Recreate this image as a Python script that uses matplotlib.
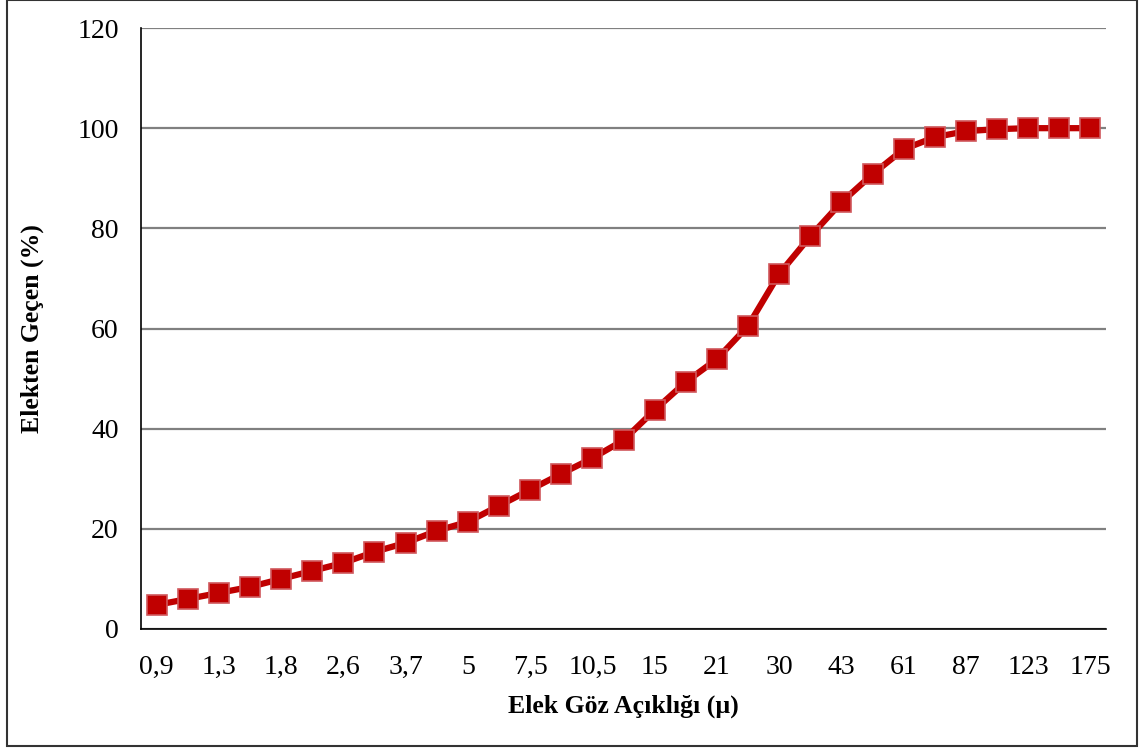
import numpy as np
import matplotlib.pyplot as plt
from matplotlib.patches import Rectangle

# sieve openings (micron) and cumulative passing (%)
sizes = ['0,9', '1,1', '1,3', '1,5', '1,8', '2,2', '2,6', '3,1', '3,7', '4,3',
         '5', '6', '7,5', '9', '10,5', '12,5', '15', '18', '21', '25',
         '30', '36', '43', '51', '61', '73', '87', '103', '123', '147', '175']
passing = [4.8, 6.0, 7.2, 8.4, 10.0, 11.6, 13.2, 15.4, 17.2, 19.6,
           21.4, 24.6, 27.8, 31.0, 34.1, 37.7, 43.7, 49.3, 53.9, 60.5,
           70.9, 78.4, 85.2, 90.8, 95.8, 98.2, 99.4, 99.8, 100, 100, 100]

plt.rcParams['font.family'] = ['Liberation Serif', 'DejaVu Serif']

fig = plt.figure(figsize=(11.4, 7.49), dpi=100)
ax = fig.add_axes([141/1140, 1 - 629/749, (1106-141)/1140, (629-28)/749])

x = np.arange(len(sizes))
ax.plot(x, passing, color='#C00000', lw=4.5, marker='s', markersize=14,
        markerfacecolor='#C00000', markeredgecolor='#D0585C', markeredgewidth=1.2,
        zorder=3)

ax.set_xlim(-0.5, len(sizes) - 0.5)
ax.set_ylim(0, 120)
ax.set_yticks(range(0, 121, 20))
ax.set_xticks(x[::2])
ax.set_xticklabels(sizes[::2])
ax.tick_params(length=0, labelsize=20)
ax.tick_params(axis='x', pad=19)
ax.tick_params(axis='y', pad=16)

ax.grid(axis='y', color='#808080', lw=1.6)
ax.set_axisbelow(True)
for s in ['top', 'right']:
    ax.spines[s].set_visible(False)
ax.spines['left'].set_color('black')
ax.spines['bottom'].set_color('black')
ax.spines['left'].set_linewidth(1.2)
ax.spines['bottom'].set_linewidth(1.2)

ax.set_xlabel('Elek Göz Açıklığı (µ)', fontsize=18.5, fontweight='bold', labelpad=10)
ax.set_ylabel('Elekten Geçen (%)', fontsize=18.5, fontweight='bold', labelpad=24)

# outer border
fig.patches.append(Rectangle((7/1140, 3/749), (1137-7)/1140, (749-3)/749,
                             transform=fig.transFigure, fill=False,
                             edgecolor='#333333', lw=1.5))

fig.savefig('out.png', dpi=100)
